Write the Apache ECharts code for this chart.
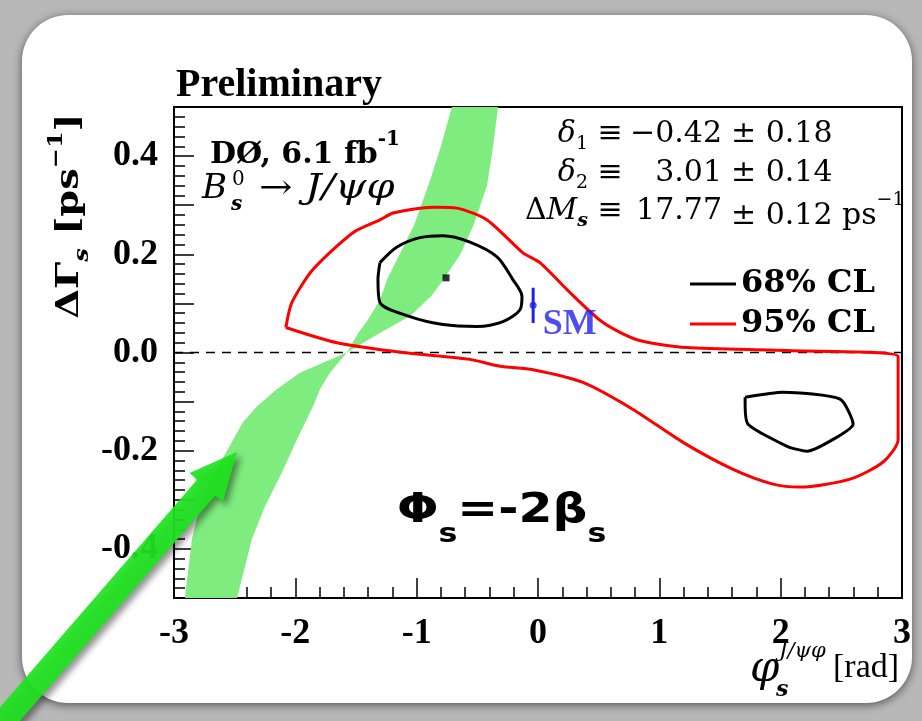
<!DOCTYPE html>
<html><head><meta charset="utf-8">
<script src="https://cdn.jsdelivr.net/npm/echarts@6/dist/echarts.min.js"></script>
<style>html,body{margin:0;padding:0;background:#b8b8b8}#c{width:922px;height:721px}</style>
</head><body><div id="c"></div>
<script>
// ---- data ----
const xTickLabels = [-3, -2, -1, 0, 1, 2, 3];
const yTickLabels = [-0.4, -0.2, 0.0, 0.2, 0.4];
// 95% CL contour (phi, dGamma)
const cl95 = [[-2.078,0.051],[-2.028,0.102],[-1.855,0.169],[-1.525,0.244],[-1.303,0.270],[-1.195,0.284],[-0.973,0.294],[-0.833,0.296],[-0.668,0.294],[-0.420,0.270],[-0.124,0.203],[0.016,0.183],[0.264,0.122],[0.536,0.061],[0.816,0.026],[1.228,0.010],[2.053,0.004],[2.968,-0.008],[2.968,-0.177],[2.844,-0.223],[2.572,-0.258],[2.160,-0.274],[1.937,-0.268],[1.608,-0.238],[1.195,-0.183],[0.783,-0.116],[0.371,-0.061],[-0.041,-0.035],[-0.313,-0.028],[-0.561,-0.014],[-1.113,0.000],[-1.657,0.020],[-2.078,0.051]];
// 68% CL contours
const cl68a = [[-1.303,0.183],[-1.162,0.215],[-0.973,0.234],[-0.783,0.238],[-0.561,0.225],[-0.338,0.195],[-0.206,0.148],[-0.132,0.114],[-0.148,0.087],[-0.289,0.063],[-0.503,0.053],[-0.783,0.057],[-1.055,0.073],[-1.303,0.102],[-1.319,0.148],[-1.303,0.183]];
const cl68b = [[1.707,-0.091],[2.020,-0.081],[2.490,-0.095],[2.597,-0.146],[2.432,-0.177],[2.218,-0.201],[2.053,-0.191],[1.731,-0.146],[1.707,-0.102],[1.707,-0.091]];
// green band (outline, clockwise)
const greenBand = [[-0.71,0.50],[-0.80,0.42],[-0.89,0.35],[-1.02,0.26],[-1.14,0.20],[-1.245,0.148],[-1.30,0.108],[-1.40,0.067],[-1.48,0.04],[-1.575,0.0],
  [-1.715,-0.041],[-1.797,-0.075],[-1.855,-0.11],[-1.987,-0.177],[-2.11,-0.244],[-2.25,-0.313],[-2.358,-0.38],[-2.48,-0.50],
  [-2.91,-0.50],[-2.852,-0.38],[-2.786,-0.313],[-2.663,-0.244],[-2.556,-0.197],[-2.432,-0.142],[-2.317,-0.11],[-2.152,-0.075],[-1.962,-0.041],[-1.575,0.0],
  [-1.30,0.04],[-1.05,0.075],[-0.88,0.115],[-0.78,0.148],[-0.64,0.20],[-0.53,0.26],[-0.42,0.34],[-0.37,0.42],[-0.33,0.50]];
const bestFit = [[-0.758, 0.152]];
const smPhi = -0.04, smDG = 0.096, smErr = 0.036;
const zeroLine = [[-3, 0], [3, 0]];

const chart = echarts.init(document.getElementById('c'), null, {renderer: 'canvas'});

// arrow geometry (annotation, pixel space)
const T = [237, 452], u = [0.655, -0.756], n = [0.756, 0.655];
function P(base, a, b) { return [base[0] + a * u[0] + b * n[0], base[1] + a * u[1] + b * n[1]]; }
const arrowPts = [T, P(T, -47, 22), P(T, -47, 12), P(T, -400, 12), P(T, -400, -12), P(T, -47, -12), P(T, -47, -22)];

const serif = '"DejaVu Serif"';
const option = {
  backgroundColor: '#b8b8b8',
  animation: false,
  grid: {left: 174, right: 20, top: 107, bottom: 123, show: true, borderColor: '#000', borderWidth: 2, backgroundColor: 'transparent'},
  xAxis: {
    type: 'value', min: -3, max: 3, interval: 1,
    axisLine: {show: true, onZero: false, lineStyle: {color: '#000', width: 2}},
    axisTick: {show: true, inside: true, length: 20, lineStyle: {color: '#000', width: 1.5}},
    minorTick: {show: true, splitNumber: 5, length: 11, lineStyle: {color: '#000', width: 1.5}},
    splitLine: {show: false},
    axisLabel: {margin: 18, color: '#000', fontFamily: 'Liberation Serif', fontWeight: 'bold', fontSize: 36,
      formatter: v => { const t = xTickLabels.find(a => Math.abs(a - v) < 1e-6); return t === undefined ? '' : String(t); }}
  },
  yAxis: {
    type: 'value', min: -0.5, max: 0.5, interval: 0.1,
    axisLine: {show: true, onZero: false, lineStyle: {color: '#000', width: 2}},
    axisTick: {show: true, inside: true, length: 20, lineStyle: {color: '#000', width: 1.5}},
    minorTick: {show: true, splitNumber: 5, length: 11, lineStyle: {color: '#000', width: 1.5}},
    splitLine: {show: false},
    axisLabel: {margin: 16, color: '#000', fontFamily: 'Liberation Serif', fontWeight: 'bold', fontSize: 36,
      formatter: v => { const t = yTickLabels.find(a => Math.abs(a - v) < 1e-6); return t === undefined ? '' : t.toFixed(1); }}
  },
  legend: {
    data: ['68% CL', '95% CL'], orient: 'vertical', left: 685, top: 263, itemGap: 8,
    icon: 'rect', itemWidth: 46, itemHeight: 3, selectedMode: false,
    textStyle: {fontFamily: 'DejaVu Serif', fontWeight: 'bold', fontSize: 32, color: '#000', lineHeight: 32}
  },
  series: [
    {type: 'custom', name: 'band', z: 1, silent: true, data: [[0, 0]],
     renderItem: (params, api) => ({type: 'polygon', shape: {points: greenBand.map(p => api.coord(p))}, style: {fill: '#7eec7e'}})},
    {type: 'line', name: 'zero', data: zeroLine, symbol: 'none', z: 3, silent: true,
     lineStyle: {color: '#000', width: 1.5, type: [9, 7]}},
    {type: 'line', name: '95% CL', data: cl95, symbol: 'none', smooth: 0.25, z: 4,
     lineStyle: {color: '#ff0000', width: 3}, itemStyle: {color: '#ff0000'}},
    {type: 'line', name: '68% CL', data: cl68a, symbol: 'none', smooth: 0.3, z: 5,
     lineStyle: {color: '#000', width: 3}, itemStyle: {color: '#000'}},
    {type: 'line', name: '68% CL', data: cl68b, symbol: 'none', smooth: 0.2, z: 5,
     lineStyle: {color: '#000', width: 3}, itemStyle: {color: '#000'}},
    {type: 'scatter', name: 'best', data: bestFit, symbol: 'rect', symbolSize: 7, z: 6, itemStyle: {color: '#000'}},
    {type: 'line', name: 'SMbar', data: [[smPhi, smDG - smErr], [smPhi, smDG + smErr]], symbol: 'none', z: 6,
     lineStyle: {color: '#1f1ff0', width: 3}},
    {type: 'scatter', name: 'SM', data: [[smPhi, smDG]], symbol: 'circle', symbolSize: 7, z: 7, itemStyle: {color: '#1f1ff0'},
     label: {show: true, position: 'right', distance: 6, formatter: 'SM', offset: [0, 19], color: '#1f1ff0', fontFamily: 'Liberation Serif', fontWeight: 'bold', fontSize: 36}}
  ],
  graphic: [
    {type: 'rect', z: -5, shape: {x: 22, y: 15, width: 890, height: 688, r: 46}, style: {fill: '#ffffff', shadowBlur: 10, shadowColor: 'rgba(0,0,0,0.55)', shadowOffsetX: 0, shadowOffsetY: 2}},
    {type: 'text', z: 10, x: 176, y: 86, style: {text: 'Preliminary', font: 'bold 40px "Liberation Serif"', fill: '#000', verticalAlign: 'middle'}},
    {type: 'text', z: 10, x: 210, y: 150, style: {
      text: '{m|DØ, 6.1 fb}{p|-1}', verticalAlign: 'middle',
      rich: {m: {font: 'bold 30px ' + serif, fill: '#000', lineHeight: 40, verticalAlign: 'bottom'},
             p: {font: 'bold 20px ' + serif, fill: '#000', lineHeight: 20, verticalAlign: 'top'}}}},
    {type: 'text', z: 10, x: 202, y: 189, style: {text: 'B', font: 'italic 34px ' + serif, fill: '#000', verticalAlign: 'middle'}},
    {type: 'text', z: 10, x: 232, y: 180, style: {text: '0', font: '20px ' + serif, fill: '#000', verticalAlign: 'middle'}},
    {type: 'text', z: 10, x: 231, y: 205, style: {text: 's', font: 'bold italic 20px ' + serif, fill: '#000', verticalAlign: 'middle'}},
    {type: 'text', z: 10, x: 259, y: 189, scaleX: 1.18, style: {text: '→ J/ψφ', font: 'italic 34px ' + serif, fill: '#000', verticalAlign: 'middle'}},
    // right-hand parameter block
    {type: 'text', z: 10, x: 588, y: 134, style: {text: '{i|δ}{s|1}', align: 'right', verticalAlign: 'middle',
      rich: {i: {font: 'italic 30px ' + serif, fill: '#000', lineHeight: 40, verticalAlign: 'middle'}, s: {font: '19px ' + serif, fill: '#000', lineHeight: 20, verticalAlign: 'bottom'}}}},
    {type: 'text', z: 10, x: 588, y: 173, style: {text: '{i|δ}{s|2}', align: 'right', verticalAlign: 'middle',
      rich: {i: {font: 'italic 30px ' + serif, fill: '#000', lineHeight: 40, verticalAlign: 'middle'}, s: {font: '19px ' + serif, fill: '#000', lineHeight: 20, verticalAlign: 'bottom'}}}},
    {type: 'text', z: 10, x: 588, y: 211, style: {text: '{r|Δ}{i|M}{s|s}', align: 'right', verticalAlign: 'middle',
      rich: {r: {font: '30px ' + serif, fill: '#000', lineHeight: 40, verticalAlign: 'middle'}, i: {font: 'italic 30px ' + serif, fill: '#000', lineHeight: 40, verticalAlign: 'middle'}, s: {font: 'bold italic 19px ' + serif, fill: '#000', lineHeight: 20, verticalAlign: 'bottom'}}}},
    {type: 'text', z: 10, x: 610, y: 134, style: {text: '≡', font: '30px ' + serif, fill: '#000', align: 'center', verticalAlign: 'middle'}},
    {type: 'text', z: 10, x: 610, y: 173, style: {text: '≡', font: '30px ' + serif, fill: '#000', align: 'center', verticalAlign: 'middle'}},
    {type: 'text', z: 10, x: 610, y: 211, style: {text: '≡', font: '30px ' + serif, fill: '#000', align: 'center', verticalAlign: 'middle'}},
    {type: 'text', z: 10, x: 722, y: 134, style: {text: '−0.42', font: '30px ' + serif, fill: '#000', align: 'right', verticalAlign: 'middle'}},
    {type: 'text', z: 10, x: 722, y: 173, style: {text: '3.01', font: '30px ' + serif, fill: '#000', align: 'right', verticalAlign: 'middle'}},
    {type: 'text', z: 10, x: 722, y: 211, style: {text: '17.77', font: '30px ' + serif, fill: '#000', align: 'right', verticalAlign: 'middle'}},
    {type: 'text', z: 10, x: 731, y: 134, style: {text: '± 0.18', font: '30px ' + serif, fill: '#000', verticalAlign: 'middle'}},
    {type: 'text', z: 10, x: 731, y: 173, style: {text: '± 0.14', font: '30px ' + serif, fill: '#000', verticalAlign: 'middle'}},
    {type: 'text', z: 10, x: 731, y: 211, style: {text: '{m|± 0.12 ps}{p|−1}', verticalAlign: 'middle',
      rich: {m: {font: '30px ' + serif, fill: '#000', lineHeight: 40, verticalAlign: 'bottom'}, p: {font: '19px ' + serif, fill: '#000', lineHeight: 20, verticalAlign: 'top'}}}},
    // y axis title (rotated)
    {type: 'text', z: 10, x: 70, y: 216, rotation: Math.PI / 2, scaleX: 1.2, style: {
      text: '{m|ΔΓ}{s|s}{m| [ps}{p|−1}{m|]}', align: 'center', verticalAlign: 'middle',
      rich: {m: {font: 'bold 32px ' + serif, fill: '#000', lineHeight: 46, verticalAlign: 'middle'},
             s: {font: 'bold italic 20px ' + serif, fill: '#000', lineHeight: 20, verticalAlign: 'bottom'},
             p: {font: 'bold 20px ' + serif, fill: '#000', lineHeight: 20, verticalAlign: 'top'}}}},
    // x axis title
    {type: 'text', z: 10, x: 750, y: 670, style: {text: 'φ', font: 'italic 42px ' + serif, fill: '#000', verticalAlign: 'middle'}},
    {type: 'text', z: 10, x: 776, y: 690, style: {text: 's', font: 'bold italic 22px ' + serif, fill: '#000', verticalAlign: 'middle'}},
    {type: 'text', z: 10, x: 779, y: 652, style: {text: 'J/ψφ', font: 'italic 21px ' + serif, fill: '#000', verticalAlign: 'middle'}},
    {type: 'text', z: 10, x: 833, y: 668, style: {text: '[rad]', font: '34px "Liberation Serif"', fill: '#000', verticalAlign: 'middle'}},
    // Phi_s = -2 beta_s
    {type: 'text', z: 10, x: 397, y: 512, scaleX: 1.22, style: {
      text: '{m|Φ}{s|s}{m|=-2β}{s|s}', verticalAlign: 'middle',
      rich: {m: {font: 'bold 40px "DejaVu Sans"', fill: '#000', lineHeight: 72, verticalAlign: 'middle'},
             s: {font: 'bold 26px "DejaVu Sans"', fill: '#000', lineHeight: 26, verticalAlign: 'bottom'}}}},
    // green arrow (annotation)
    {type: 'polygon', z: 20, shape: {points: arrowPts},
     style: {fill: '#1fe31f', opacity: 0.93, shadowBlur: 6, shadowColor: 'rgba(0,0,0,0.45)', shadowOffsetX: 4, shadowOffsetY: 4}}
  ]
};
chart.setOption(option);
</script></body></html>
